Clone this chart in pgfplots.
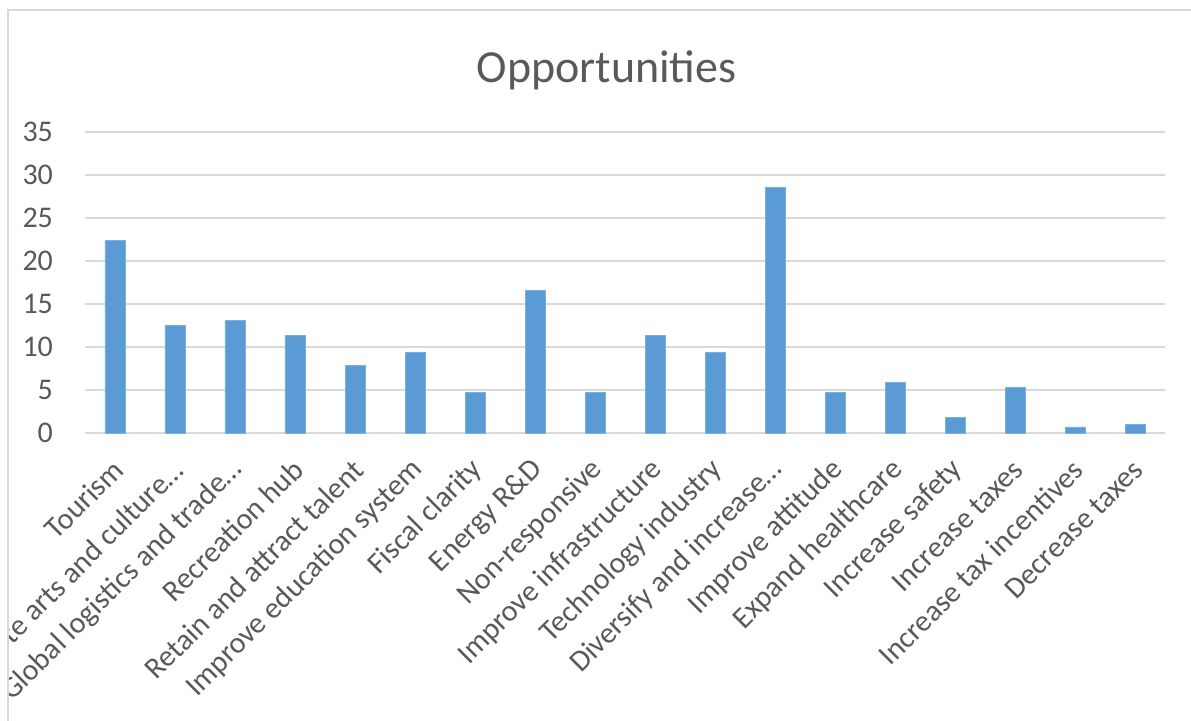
\documentclass[border=0pt]{standalone}
\usepackage{pgfplots}
\pgfplotsset{compat=1.18}
\usepackage{fontspec}
\setmainfont{Carlito}
\definecolor{barblue}{RGB}{91,155,213}
\definecolor{txt}{RGB}{89,89,89}
\definecolor{gridc}{RGB}{217,217,217}
\begin{document}
\begin{tikzpicture}[x=1pt,y=1pt]
\begin{axis}[
  at={(0,0)}, anchor=south west,
  width=540pt, height=150.5pt, scale only axis,
  xmin=-0.5, xmax=17.5, ymin=0, ymax=35,
  ytick={0,5,...,35},
  xtick={0,...,17},
  xticklabels={Tourism,Promote arts and culture…,Global logistics and trade…,Recreation hub,Retain and attract talent,Improve education system,Fiscal clarity,Energy R\&D,Non-responsive,Improve infrastructure,Technology industry,Diversify and increase…,Improve attitude,Expand healthcare,Increase safety,Increase taxes,Increase tax incentives,Decrease taxes},
  axis line style={draw=none},
  tick style={draw=none},
  ymajorgrids, grid style={gridc, line width=0.9pt},
  /pgf/number format/assume math mode=true,
  ticklabel style={font=\fontsize{15}{18}\selectfont, text=txt},
  x tick label style={rotate=45, anchor=east, inner sep=1pt, yshift=-12.4pt, xshift=-9.1pt},
  yticklabel style={xshift=-12.5pt},
  clip=false,
]
\addplot[ybar, bar width=10pt, fill=barblue, draw=barblue!80!white, line width=0.4pt] coordinates {
(0,22.4) (1,12.5) (2,13.1) (3,11.35) (4,7.9) (5,9.4) (6,4.7) (7,16.6) (8,4.7)
(9,11.35) (10,9.4) (11,28.5) (12,4.7) (13,5.9) (14,1.85) (15,5.3) (16,0.7) (17,1.0)
};
\end{axis}
\node[anchor=base, text=txt, font=\fontsize{23}{28}\selectfont] at (260.75,175) {Opportunities};
\fill[white] (-43,-145) rectangle (-38.5,217);
\draw[gridc, line width=1pt] (-38.5,-145) -- (-38.5,211.5) -- (554,211.5);
\pgfresetboundingbox
\path (-42.5,-144) rectangle (553,216.5);
\end{tikzpicture}
\end{document}
